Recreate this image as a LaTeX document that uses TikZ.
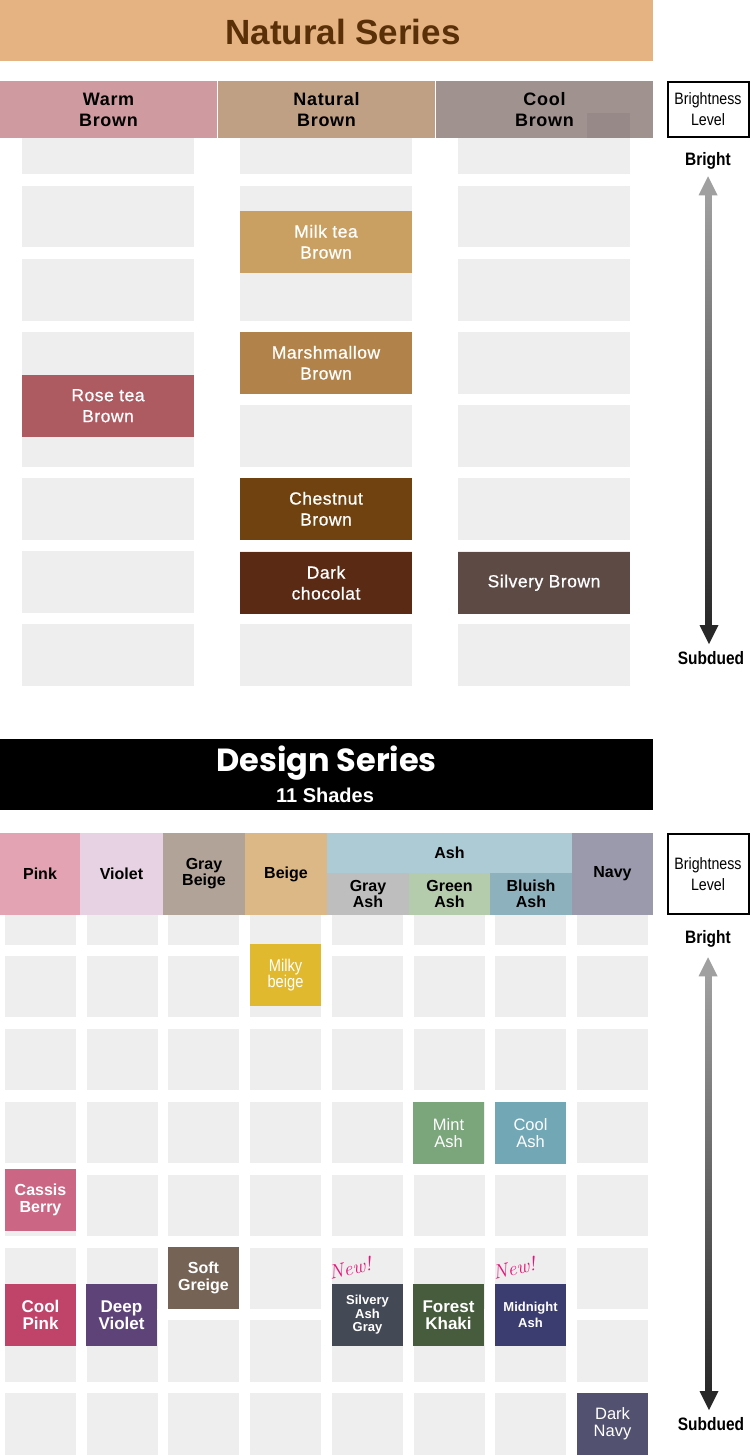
\documentclass[tikz,border=0pt]{standalone}
\usepackage{fontspec}
\setmainfont{Liberation Sans}
\newfontfamily\titlefont{Liberation Sans}
\newfontfamily\designfont{Poppins}
\newfontfamily\narrowfont[FakeStretch=0.86]{Liberation Sans}
\newfontfamily\spacedfont[LetterSpace=4]{Liberation Sans}
\newfontfamily\cellfont[LetterSpace=3, FakeBold=0.7]{Liberation Sans}
\newfontfamily\scribblefont{Latin Modern Roman}
\usepackage{tikz}
\usetikzlibrary{positioning,calc}
\usepackage{xcolor}
% palette
\definecolor{cellgray}{RGB}{238,238,238}
\definecolor{naturalbar}{RGB}{229,179,130}
\definecolor{naturalink}{RGB}{90,48,8}
\definecolor{warmbrown}{RGB}{208,155,160}
\definecolor{naturalbrown}{RGB}{192,160,132}
\definecolor{coolbrown}{RGB}{160,146,143}
\definecolor{coolbrowndark}{RGB}{150,137,135}
\definecolor{milktea}{RGB}{201,160,98}
\definecolor{marshmallow}{RGB}{177,131,74}
\definecolor{rosetea}{RGB}{173,90,97}
\definecolor{chestnut}{RGB}{112,66,16}
\definecolor{darkchoc}{RGB}{90,42,21}
\definecolor{silverybrown}{RGB}{94,74,68}
\definecolor{pinkhead}{RGB}{227,163,179}
\definecolor{violethead}{RGB}{230,210,226}
\definecolor{graybeigehead}{RGB}{177,163,152}
\definecolor{beigehead}{RGB}{219,184,133}
\definecolor{ashhead}{RGB}{173,203,213}
\definecolor{grayashhead}{RGB}{190,190,190}
\definecolor{greenashhead}{RGB}{180,204,172}
\definecolor{bluishashhead}{RGB}{141,178,190}
\definecolor{navyhead}{RGB}{154,154,172}
\definecolor{milkybeige}{RGB}{225,185,47}
\definecolor{mintash}{RGB}{123,165,123}
\definecolor{coolash}{RGB}{114,167,182}
\definecolor{cassis}{RGB}{203,103,132}
\definecolor{softgreige}{RGB}{117,100,85}
\definecolor{coolpink}{RGB}{192,67,106}
\definecolor{deepviolet}{RGB}{94,67,121}
\definecolor{silveryash}{RGB}{67,73,85}
\definecolor{forestkhaki}{RGB}{70,92,61}
\definecolor{midnightash}{RGB}{59,61,112}
\definecolor{darknavy}{RGB}{82,81,112}
\definecolor{newpink}{RGB}{228,21,122}
\definecolor{arrowgray}{RGB}{160,160,160}
\definecolor{arrowdark}{RGB}{40,40,40}
\tikzstyle{ncell} = [rectangle, fill=cellgray, inner sep=0pt, outer sep=0pt, anchor=north west, minimum width=172pt, minimum height=61.5pt]
\tikzstyle{nshade} = [ncell, text=white, align=center, font=\cellfont\fontsize{17.5}{21}\selectfont]
\tikzstyle{dcell} = [rectangle, fill=cellgray, inner sep=0pt, outer sep=0pt, anchor=north west, minimum width=71pt, minimum height=61.5pt]
\tikzstyle{dshade} = [dcell, text=white, align=center, font=\bfseries\fontsize{16}{17}\selectfont]
\tikzstyle{dsoft} = [dcell, text=white, align=center, font=\fontsize{16.5}{17}\selectfont]
\tikzstyle{nhead} = [rectangle, inner sep=0pt, outer sep=0pt, anchor=north west, minimum width=217pt, minimum height=57pt, align=center, font=\spacedfont\bfseries\fontsize{18}{21}\selectfont]
\tikzstyle{dhead} = [rectangle, inner sep=0pt, outer sep=0pt, anchor=north west, minimum width=82pt, minimum height=82pt, align=center, font=\bfseries\fontsize{16}{16}\selectfont]
\tikzstyle{levelbox} = [rectangle, draw=black, line width=2pt, fill=white, minimum width=81pt, align=center, font=\narrowfont\fontsize{16.5}{21}\selectfont]
\tikzstyle{levellabel} = [inner sep=0pt, font=\narrowfont\bfseries\fontsize{18}{18}\selectfont]
\tikzstyle{newtag} = [inner sep=0pt, text=newpink, rotate=12, font=\scribblefont\itshape\fontsize{20}{20}\selectfont]

\begin{document}
\begin{tikzpicture}[x=1pt, y=-1pt]
\useasboundingbox (0,0) rectangle (750,1455);

% Natural series
\node[fill=naturalbar, inner sep=0pt, anchor=north west, minimum width=653pt, minimum height=61pt] (ntitle) at (0,0) {};
\node[text=naturalink, font=\titlefont\bfseries\fontsize{35}{35}\selectfont] at (343,32) {Natural Series};

\foreach \col/\cx in {1/22, 2/240, 3/458}
  \foreach \row in {0,...,7}
    \node[ncell] (nc-\col-\row) at (\cx, {113+73*\row}) {};

\node[nhead, fill=warmbrown] (warm) at (0,81) {Warm\\Brown};
\node[nhead, fill=naturalbrown] (natural) at (218,81) {Natural\\Brown};
\node[nhead, fill=coolbrown] (cool) at (436,81) {Cool\\Brown};
\fill[coolbrowndark] (587,113) rectangle (630,138);

\node[nshade, fill=milktea] (milktea) at (240,211) {Milk tea\\Brown};
\node[nshade, fill=marshmallow] (marshmallow) at (240,332) {Marshmallow\\Brown};
\node[nshade, fill=rosetea] (rosetea) at (22,375) {Rose tea\\Brown};
\node[nshade, fill=chestnut] (chestnut) at (240,478) {Chestnut\\Brown};
\node[nshade, fill=darkchoc] (darkchoc) at (240,552) {Dark\\chocolat};
\node[nshade, fill=silverybrown] (silverybrown) at (458,552) {Silvery Brown};

\node[levelbox, minimum height=55pt] (nlevel) at (708,109.5) {Brightness\\Level};
\node[levellabel, below=14pt of nlevel] (nbright) {Bright};
\node[levellabel] (nsubdued) at (711,658) {Subdued};
\coordinate (ntop) at ($(nbright.south)+(0,7)$);
\coordinate (nbot) at ($(nsubdued.north)+(-2,-7)$);
\shade[top color=arrowgray, bottom color=arrowdark] ($(ntop)+(-2.5,18)$) rectangle ($(nbot)+(2.5,-18)$);
\fill[arrowgray] (ntop) -- ++(-9.5,19) -- ++(19,0) -- cycle;
\fill[arrowdark] (nbot) -- ++(-9.5,-19) -- ++(19,0) -- cycle;

% Design series
\node[fill=black, inner sep=0pt, anchor=north west, minimum width=653pt, minimum height=71pt] (dtitle) at (0,739) {};
\node[text=white, font=\designfont\bfseries\fontsize{32}{32}\selectfont] (dname) at (326.5,763) {Design Series};
\node[text=white, font=\bfseries\fontsize{20}{20}\selectfont] (dcount) at (325,795) {11 Shades};

\foreach \col in {0,...,7}
  \foreach \row in {0,...,7}
    \node[dcell] (dc-\col-\row) at ({5+81.7*\col}, {883+72.9*\row}) {};

\node[dhead, fill=pinkhead, minimum width=80pt] (pink) at (0,833) {Pink};
\node[dhead, fill=violethead, minimum width=83pt] (violet) at (80,833) {Violet};
\node[dhead, fill=graybeigehead] (graybeige) at (163,833) {Gray\\Beige};
\node[dhead, fill=beigehead] (beige) at (245,833) {Beige};
\node[dhead, fill=ashhead, minimum width=245pt, minimum height=40pt] (ash) at (327,833) {Ash};
\node[dhead, fill=grayashhead, minimum height=42pt] (grayash) at (327,873) {Gray\\Ash};
\node[dhead, fill=greenashhead, minimum width=81pt, minimum height=42pt] (greenash) at (409,873) {Green\\Ash};
\node[dhead, fill=bluishashhead, minimum height=42pt] (bluishash) at (490,873) {Bluish\\Ash};
\node[dhead, fill=navyhead, minimum width=81pt] (navy) at (572,833) {Navy};

\node[dsoft, fill=milkybeige, font=\narrowfont\fontsize{17}{16}\selectfont] (milky) at (250,944) {Milky\\beige};
\node[dsoft, fill=mintash] (mint) at (413,1102) {Mint\\Ash};
\node[dsoft, fill=coolash] (coolash) at (495,1102) {Cool\\Ash};
\node[dshade, fill=cassis] (cassis) at (5,1169) {Cassis\\Berry};
\node[dshade, fill=softgreige] (softgreige) at (168,1247) {Soft\\Greige};
\node[dshade, fill=coolpink, font=\bfseries\fontsize{17}{17}\selectfont] (coolpink) at (5,1284) {Cool\\Pink};
\node[dshade, fill=deepviolet, font=\bfseries\fontsize{17}{17}\selectfont] (deepviolet) at (86,1284) {Deep\\Violet};
\node[dshade, fill=silveryash, font=\bfseries\fontsize{13}{13.5}\selectfont] (silveryash) at (332,1284) {Silvery\\Ash\\Gray};
\node[dshade, fill=forestkhaki, font=\bfseries\fontsize{17}{17}\selectfont] (forest) at (413,1284) {Forest\\Khaki};
\node[dshade, fill=midnightash, font=\bfseries\fontsize{13}{16.5}\selectfont] (midnight) at (495,1284) {Midnight\\Ash};
\node[dsoft, fill=darknavy] (darknavy) at (577,1393) {Dark\\Navy};
\node[newtag] (newsilvery) at (350,1268) {New!};
\node[newtag] (newmidnight) at (514,1268) {New!};

\node[levelbox, minimum height=80pt] (dlevel) at (708,874) {Brightness\\Level};
\node[levellabel, below=15pt of dlevel] (dbright) {Bright};
\node[levellabel] (dsubdued) at (711,1424) {Subdued};
\coordinate (dtop) at ($(dbright.south)+(0,10)$);
\coordinate (dbot) at ($(dsubdued.north)+(-2,-7)$);
\shade[top color=arrowgray, bottom color=arrowdark] ($(dtop)+(-2.5,18)$) rectangle ($(dbot)+(2.5,-18)$);
\fill[arrowgray] (dtop) -- ++(-9.5,19) -- ++(19,0) -- cycle;
\fill[arrowdark] (dbot) -- ++(-9.5,-19) -- ++(19,0) -- cycle;
\end{tikzpicture}
\end{document}
